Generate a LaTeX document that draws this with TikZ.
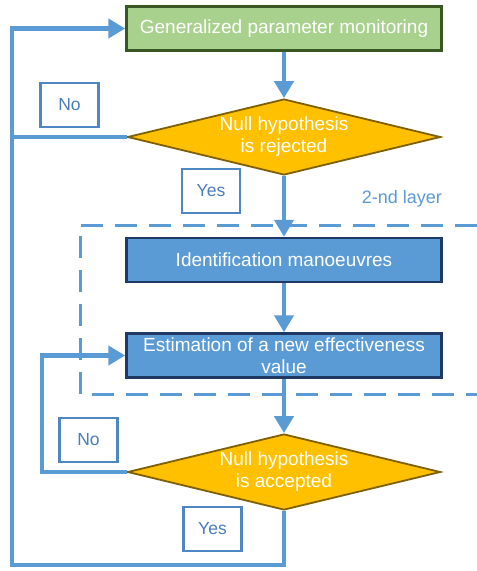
\documentclass[tikz,border=0pt]{standalone}
\usepackage{fontspec}
\setmainfont{Liberation Sans}
\usetikzlibrary{shapes.geometric,arrows.meta}

\definecolor{flowblue}{HTML}{5B9BD5}
\definecolor{greenfill}{HTML}{A9D18E}
\definecolor{greenedge}{HTML}{385723}
\definecolor{navyedge}{HTML}{1F3864}
\definecolor{goldfill}{HTML}{FFC000}
\definecolor{goldedge}{HTML}{7F6000}
\definecolor{tagedge}{HTML}{4E87C4}
\definecolor{tagtext}{HTML}{4A7EBB}

\tikzset{
  maintext/.style={font=\fontsize{19}{22}\selectfont, text=white, align=center},
  procbox/.style={maintext, rectangle, minimum width=315pt, minimum height=44pt,
                  inner sep=0pt, line width=2.5pt},
  startbox/.style={procbox, fill=greenfill, draw=greenedge},
  stepbox/.style={procbox, fill=flowblue, draw=navyedge},
  decision/.style={maintext, diamond, aspect=4.1, inner sep=0pt,
                   minimum width=313pt, minimum height=76pt,
                   fill=goldfill, draw=goldedge, line width=1.8pt},
  tag/.style={rectangle, draw=tagedge, fill=white, line width=2.5pt,
              minimum width=58pt, minimum height=44pt, inner sep=0pt,
              text=tagtext, font=\fontsize{17.5}{20}\selectfont},
  flow/.style={draw=flowblue, line width=4.6pt},
  tip/.style={-{Triangle[width=19pt,length=17pt]}},
}

\begin{document}
\begin{tikzpicture}[x=1pt,y=-1pt]
  % page frame
  \fill[white] (0,0) rectangle (477,571);
  \useasboundingbox (0,0) rectangle (477,571);

  % second-layer frame, open on the right edge
  \draw[flowblue, line width=3pt, dash pattern=on 22pt off 12pt]
    (477,225) -- (80,225) -- (80,394) -- (477,394);
  \node[text=flowblue, font=\fontsize{18}{21}\selectfont] (layer) at (402,199) {2-nd layer};

  % main blocks
  \node[startbox] (gpm) at (284,28.5) {Generalized parameter monitoring};
  \node[decision] (d1) at (284,137) {Null hypothesis\\is rejected};
  \node[stepbox] (ident) at (284,260) {Identification manoeuvres};
  \node[stepbox] (est) at (284,355.5) {Estimation of a new effectiveness\\value};
  \node[decision] (d2) at (284,472) {Null hypothesis\\is accepted};

  % loop corners
  \coordinate (outer) at (12,565);
  \coordinate (inner) at (42,472);

  % connectors
  \draw[flow,tip] (gpm.south) -- (d1.north);
  \draw[flow,tip] (d1.south) -- (ident.north);
  \draw[flow,tip] (ident.south) -- (est.north);
  \draw[flow,tip] (est.south) -- (d2.north);
  \draw[flow,tip] (d2.west) -- (inner) |- (est.west);
  \draw[flow,tip] (d2.south) |- (outer) |- (gpm.west);
  \draw[flow] (d1.west) -- (d1.west -| outer);

  % branch labels
  \node[tag] (no1) at (69.5,105) {No};
  \node[tag] (yes1) at (211,191) {Yes};
  \node[tag] (no2) at (88.5,440) {No};
  \node[tag] (yes2) at (212.5,529) {Yes};
\end{tikzpicture}
\end{document}
